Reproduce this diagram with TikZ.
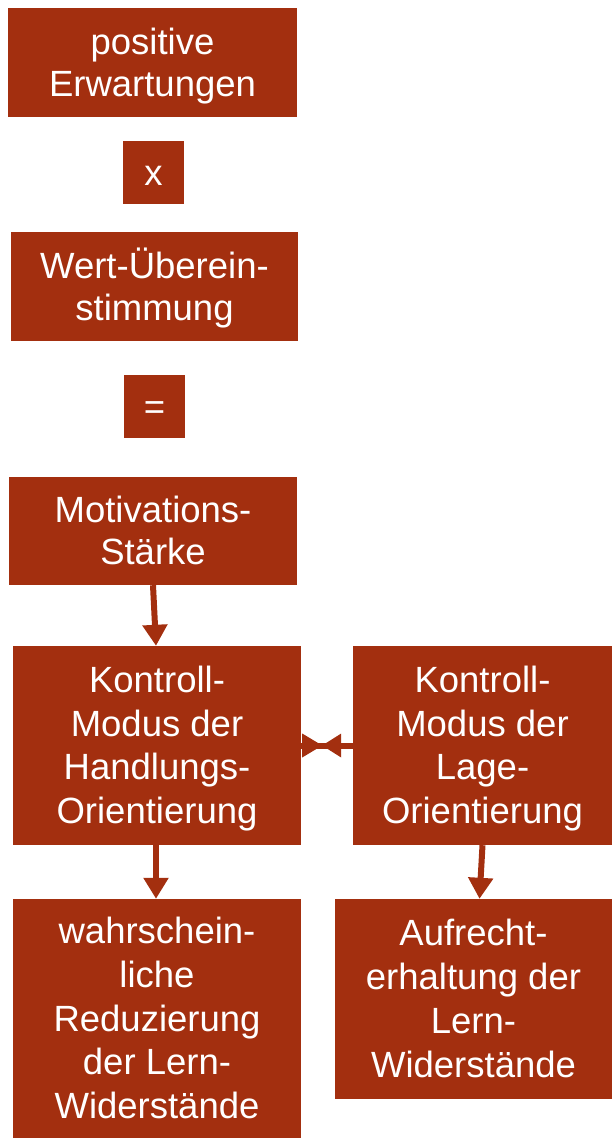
\documentclass[tikz,border=0pt]{standalone}
\usepackage{fontspec}
\setmainfont{Liberation Sans}
\usetikzlibrary{arrows.meta,calc}
\definecolor{rust}{RGB}{163,47,15}
% fixed first-line height and last-line depth, so every box sets its lines alike
\newcommand\tophi{\rule{0pt}{34.5pt}}
\newcommand\botlo{\rule[-9.5pt]{0pt}{9.5pt}}
\begin{document}
\begin{tikzpicture}[x=1pt,y=-1pt,
  box/.style={fill=rust,text=white,inner sep=0pt,align=center,
    font=\fontsize{36.5}{43.7}\selectfont},
  tight/.style={font=\fontsize{36.5}{42}\selectfont},
  conn/.style={draw=rust,line width=6pt,-{Triangle[width=24pt,length=21pt]}}]
\useasboundingbox (0,0) rectangle (613,1138);
% value chain
\node[box,tight,minimum width=289pt,minimum height=109pt] (erw) at (152.5,62.5) {\tophi positive\\Erwartungen\botlo};
\node[box,minimum width=61pt,minimum height=63pt] (mal) at (153.5,172.5) {\tophi x\botlo};
\node[box,tight,minimum width=287pt,minimum height=109pt] (wert) at (154.5,286.5) {\tophi Wert-Überein-\\stimmung\botlo};
\node[box,minimum width=61pt,minimum height=63pt] (gleich) at (154.5,406.5) {\tophi =\botlo};
\node[box,tight,minimum width=288pt,minimum height=108pt] (motiv) at (153,531) {\tophi Motivations-\\Stärke\botlo};
% control modes
\node[box,minimum width=288pt,minimum height=199pt] (handl) at (157,745.5) {\tophi Kontroll-\\Modus der\\Handlungs-\\Orientierung\botlo};
\node[box,minimum width=259pt,minimum height=199pt] (lage) at (482.5,745.5) {\tophi Kontroll-\\Modus der\\Lage-\\Orientierung\botlo};
% outcomes
\node[box,minimum width=288pt,minimum height=239pt] (reduz) at (157,1018.5) {\tophi wahrschein-\\liche\\Reduzierung\\der Lern-\\Widerstände\botlo};
\node[box,minimum width=277pt,minimum height=200pt] (aufr) at (473.5,999) {\tophi Aufrecht-\\erhaltung der\\Lern-\\Widerstände\botlo};
% connectors
\draw[conn] (motiv.south) -- ($(handl.north)+(-1,0)$);
\draw[conn] ($(handl.south)+(-1,0)$) -- ($(reduz.north)+(-1,0)$);
\draw[conn] (lage.south) -- ($(aufr.north)+(6,0)$);
% opposed heads between the two control modes
\draw[rust,line width=6pt] (lage.west) -- ($(handl.east)+(-6,0)$);
\fill[rust] ($(handl.east)+(1,-12)$) -- ($(handl.east)+(21,0)$) -- ($(handl.east)+(1,12)$) -- cycle;
\fill[rust] ($(handl.east)+(40,-12)$) -- ($(handl.east)+(21,0)$) -- ($(handl.east)+(40,12)$) -- cycle;
\end{tikzpicture}
\end{document}
